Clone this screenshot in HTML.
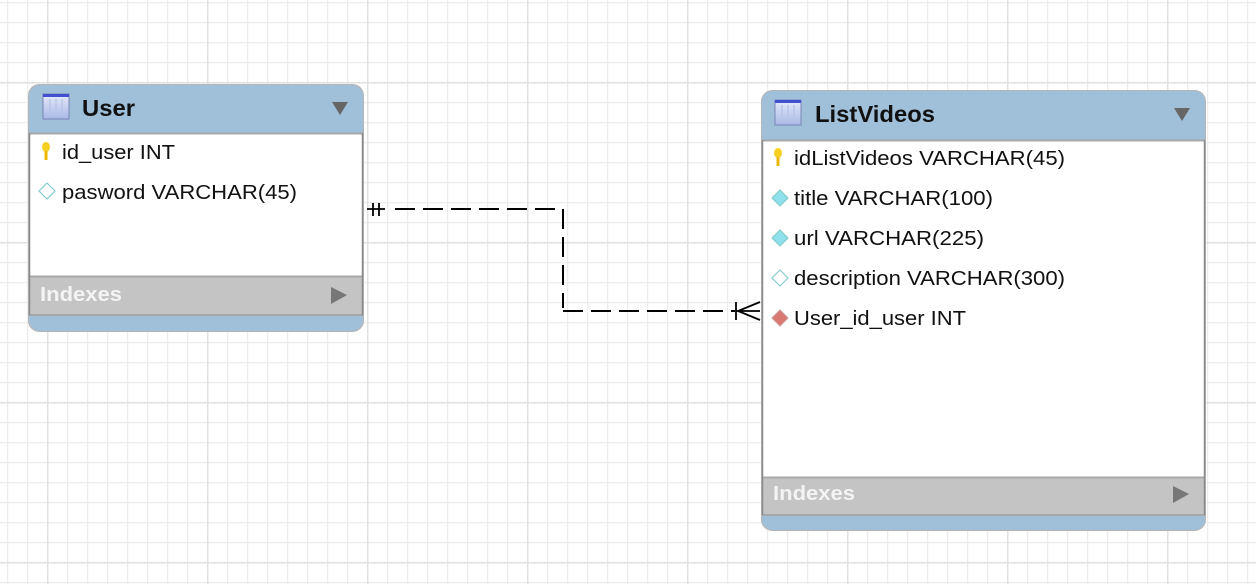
<!DOCTYPE html>
<html><head><meta charset="utf-8"><style>
html,body{margin:0;padding:0;background:#fff}
svg{display:block}
text{font-family:"Liberation Sans",Arial,sans-serif}
</style></head><body>
<svg width="1256" height="584" viewBox="0 0 1256 584" xmlns="http://www.w3.org/2000/svg">
<defs>
<pattern id="minor" width="20" height="20" patternUnits="userSpaceOnUse" x="7" y="2">
<path d="M0.5 0V20M0 0.5H20" stroke="#ececec" stroke-width="1.5" fill="none"/>
</pattern>
<pattern id="major" width="160" height="160" patternUnits="userSpaceOnUse" x="47" y="82">
<path d="M0.5 0V160M0 0.5H160" stroke="#e0e0e0" stroke-width="2" fill="none"/>
</pattern>
<linearGradient id="tbl" x1="0" y1="0" x2="0" y2="1"><stop offset="0" stop-color="#e6ecfa"/><stop offset="1" stop-color="#a9b8e6"/></linearGradient>
<g id="tblicon">
<rect x="0" y="0" width="26" height="25" fill="url(#tbl)" stroke="#7b86b8" stroke-width="1"/>
<rect x="0" y="0" width="26" height="3" fill="#4050d0"/>
<path d="M7 5V22M13 5V22M19 5V22" stroke="#b9c4e8" stroke-width="1.5"/>
</g>
<g id="key"><ellipse cx="0" cy="-4" rx="4" ry="5" fill="#f5d020"/><rect x="-1.5" y="0" width="3" height="9" fill="#e8b800"/></g>
<g id="dia"><path d="M0 -8L8 0L0 8L-8 0Z" stroke="#8cc" stroke-width="1.2"/></g>
</defs>
<rect width="1256" height="584" fill="url(#minor)"/>
<rect width="1256" height="584" fill="url(#major)"/>

<!-- User -->
<g>
<rect x="28.5" y="84.5" width="335" height="247" rx="11" fill="#a0bfd9" stroke="#b5b5b5"/>
<rect x="29" y="133" width="334" height="143" fill="#fff"/>
<rect x="29" y="276" width="334" height="39" fill="#c4c4c4"/>
<path d="M29 133.5H363M29 276.5H363M29 315H363" stroke="#a8a8a8" stroke-width="2"/>
<path d="M29.5 133V315M362.5 133V315" stroke="#8a8a8a" stroke-width="1.5"/>
<use href="#tblicon" x="43" y="94"/>
<text x="82" y="116" font-size="23" font-weight="bold" fill="#111" textLength="53" lengthAdjust="spacingAndGlyphs">User</text>
<path d="M332 102H348L340 115Z" fill="#666"/>
<use href="#key" x="46" y="151"/>
<text x="62" y="159" font-size="20" fill="#111" textLength="113" lengthAdjust="spacingAndGlyphs">id_user INT</text>
<use href="#dia" x="47" y="191" fill="#fff"/>
<text x="62" y="199" font-size="20" fill="#111" textLength="235" lengthAdjust="spacingAndGlyphs">pasword VARCHAR(45)</text>
<text x="40" y="301" font-size="20" font-weight="bold" fill="#f4f4f4" textLength="82" lengthAdjust="spacingAndGlyphs">Indexes</text>
<path d="M331 287L347 295L331 304Z" fill="#777"/>
</g>

<!-- ListVideos -->
<g>
<rect x="761.5" y="90.5" width="444" height="440" rx="11" fill="#a0bfd9" stroke="#b5b5b5"/>
<rect x="762" y="140" width="443" height="337" fill="#fff"/>
<rect x="762" y="477" width="443" height="38" fill="#c4c4c4"/>
<path d="M762 140.5H1205M762 477.5H1205M762 515H1205" stroke="#a8a8a8" stroke-width="2"/>
<path d="M762.5 140V515M1204.5 140V515" stroke="#8a8a8a" stroke-width="1.5"/>
<use href="#tblicon" x="775" y="100"/>
<text x="815" y="122" font-size="23" font-weight="bold" fill="#111" textLength="120" lengthAdjust="spacingAndGlyphs">ListVideos</text>
<path d="M1174 108H1190L1182 121Z" fill="#666"/>
<use href="#key" x="778" y="157"/>
<text x="794" y="165" font-size="20" fill="#111" textLength="271" lengthAdjust="spacingAndGlyphs">idListVideos VARCHAR(45)</text>
<use href="#dia" x="780" y="198" fill="#8ee0ec"/>
<text x="794" y="205" font-size="20" fill="#111" textLength="199" lengthAdjust="spacingAndGlyphs">title VARCHAR(100)</text>
<use href="#dia" x="780" y="238" fill="#8ee0ec"/>
<text x="794" y="245" font-size="20" fill="#111" textLength="190" lengthAdjust="spacingAndGlyphs">url VARCHAR(225)</text>
<use href="#dia" x="780" y="278" fill="#fff"/>
<text x="794" y="285" font-size="20" fill="#111" textLength="271" lengthAdjust="spacingAndGlyphs">description VARCHAR(300)</text>
<path d="M780 310L788 318L780 326L772 318Z" fill="#d97a72" stroke="#c99" stroke-width="1"/>
<text x="794" y="325" font-size="20" fill="#111" textLength="172" lengthAdjust="spacingAndGlyphs">User_id_user INT</text>
<text x="773" y="500" font-size="20" font-weight="bold" fill="#f4f4f4" textLength="82" lengthAdjust="spacingAndGlyphs">Indexes</text>
<path d="M1173 486L1189 494L1173 503Z" fill="#777"/>
</g>

<!-- connector -->
<path d="M395 209H555M563 209V308M563 311H735" stroke="#000" stroke-width="2" fill="none" stroke-dasharray="20,8"/>
<path d="M367 209H385M373 203V216M379 203V216" stroke="#000" stroke-width="1.8" fill="none"/>
<path d="M736 302V320M736 311H760M760 302L738 311L760 320" stroke="#000" stroke-width="1.8" fill="none"/>
</svg>
</body></html>
